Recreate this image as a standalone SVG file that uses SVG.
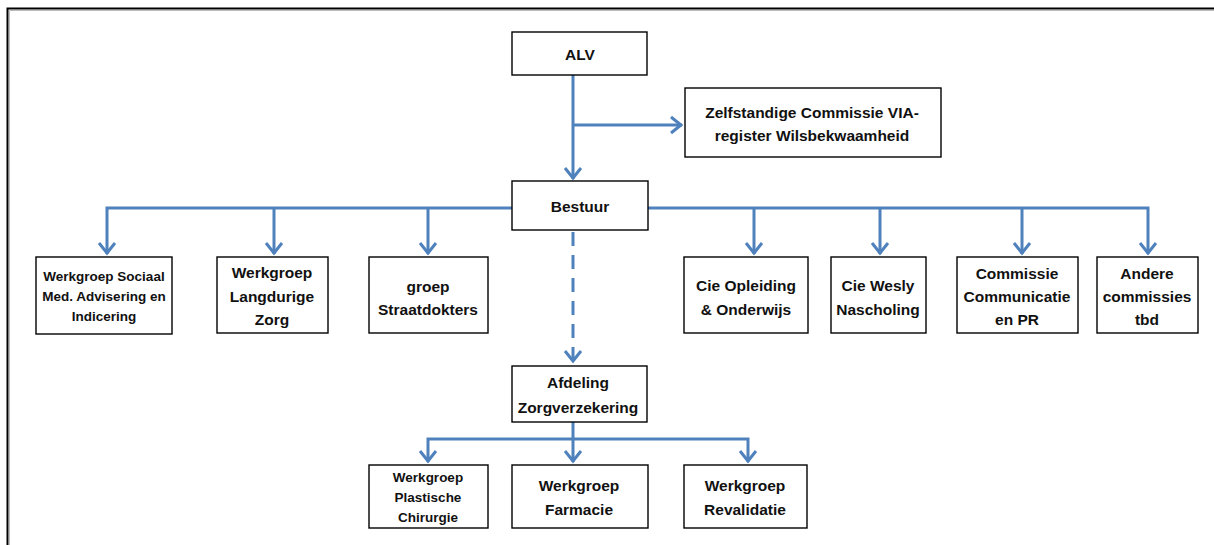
<svg xmlns="http://www.w3.org/2000/svg" width="1214" height="545" viewBox="0 0 1214 545">
<style>
.box{fill:#fff;stroke:#000;stroke-width:1.4}
.t{font-family:"Liberation Sans",Arial,sans-serif;font-weight:bold;font-size:15.5px;fill:#111;text-anchor:middle}
.s{font-size:13.5px}
.c{fill:none;stroke:#4F81BD;stroke-width:3}
.d{stroke-dasharray:14 9}
.frame{fill:none;stroke:#000;stroke-width:2}
</style>
<defs>
<marker id="ar" markerUnits="userSpaceOnUse" markerWidth="24" markerHeight="24" viewBox="-14 -12 16 24" refX="0" refY="0" orient="auto">
<path d="M-11,-8 L-1,0 L-11,8" fill="none" stroke="#4F81BD" stroke-width="3"/>
</marker>
</defs>
<rect width="1214" height="545" fill="#fff"/>
<path class="frame" d="M7.5,545 V8.5 H1214"/>
<path d="M9.5,545 V10.5 H1214" fill="none" stroke="#bbb" stroke-width="1"/>
<g id="connectors">
<path class="c" d="M573,75 V179" marker-end="url(#ar)"/>
<path class="c" d="M573,125 H682" marker-end="url(#ar)"/>
<path class="c" d="M512,208 H107 V254" marker-end="url(#ar)"/>
<path class="c" d="M274,208 V254" marker-end="url(#ar)"/>
<path class="c" d="M428,208 V254" marker-end="url(#ar)"/>
<path class="c" d="M648,208 H1148 V254" marker-end="url(#ar)"/>
<path class="c" d="M754,208 V254" marker-end="url(#ar)"/>
<path class="c" d="M880,208 V254" marker-end="url(#ar)"/>
<path class="c" d="M1022,208 V254" marker-end="url(#ar)"/>
<path class="c d" d="M573,232 V362" marker-end="url(#ar)"/>
<path class="c" d="M573,422 V462" marker-end="url(#ar)"/>
<path class="c" d="M573,439 H428 V462" marker-end="url(#ar)"/>
<path class="c" d="M573,439 H748 V462" marker-end="url(#ar)"/>
</g>
<g id="alv"><rect class="box" x="512" y="32" width="135" height="43"/><text class="t" x="580" y="60">ALV</text></g>
<g id="zelfstandige"><rect class="box" x="685" y="88" width="256" height="69"/><text class="t" x="812" y="118">Zelfstandige Commissie VIA-</text><text class="t" x="812" y="141">register Wilsbekwaamheid</text></g>
<g id="bestuur"><rect class="box" x="512" y="181" width="136" height="49"/><text class="t" x="580" y="212">Bestuur</text></g>
<g id="sociaal"><rect class="box" x="36" y="257" width="136" height="77"/><text class="t s" x="104" y="281">Werkgroep Sociaal</text><text class="t s" x="104" y="301">Med. Advisering en</text><text class="t s" x="104" y="321">Indicering</text></g>
<g id="langdurige"><rect class="box" x="217" y="257" width="111" height="76"/><text class="t" x="272" y="278">Werkgroep</text><text class="t" x="272" y="302">Langdurige</text><text class="t" x="272" y="325">Zorg</text></g>
<g id="straatdokters"><rect class="box" x="369" y="257" width="119" height="76"/><text class="t" x="428" y="292">groep</text><text class="t" x="428" y="315">Straatdokters</text></g>
<g id="opleiding"><rect class="box" x="684" y="257" width="124" height="76"/><text class="t" x="746" y="291">Cie Opleiding</text><text class="t" x="746" y="315">&amp; Onderwijs</text></g>
<g id="wesly"><rect class="box" x="831" y="257" width="95" height="76"/><text class="t" x="878" y="291">Cie Wesly</text><text class="t" x="878" y="315">Nascholing</text></g>
<g id="communicatie"><rect class="box" x="957" y="257" width="121" height="76"/><text class="t" x="1017" y="279">Commissie</text><text class="t" x="1017" y="302">Communicatie</text><text class="t" x="1017" y="325">en PR</text></g>
<g id="andere"><rect class="box" x="1097" y="257" width="101" height="76"/><text class="t" x="1147" y="279">Andere</text><text class="t" x="1147" y="302">commissies</text><text class="t" x="1147" y="325">tbd</text></g>
<g id="afdeling"><rect class="box" x="512" y="366" width="135" height="56"/><text class="t" x="578" y="388">Afdeling</text><text class="t" x="578" y="413">Zorgverzekering</text></g>
<g id="plastische"><rect class="box" x="369" y="465" width="119" height="63"/><text class="t s" x="428" y="482">Werkgroep</text><text class="t s" x="428" y="502">Plastische</text><text class="t s" x="428" y="522">Chirurgie</text></g>
<g id="farmacie"><rect class="box" x="512" y="465" width="136" height="63"/><text class="t" x="579" y="491">Werkgroep</text><text class="t" x="579" y="515">Farmacie</text></g>
<g id="revalidatie"><rect class="box" x="684" y="465" width="123" height="63"/><text class="t" x="745" y="491">Werkgroep</text><text class="t" x="745" y="515">Revalidatie</text></g>
</svg>
